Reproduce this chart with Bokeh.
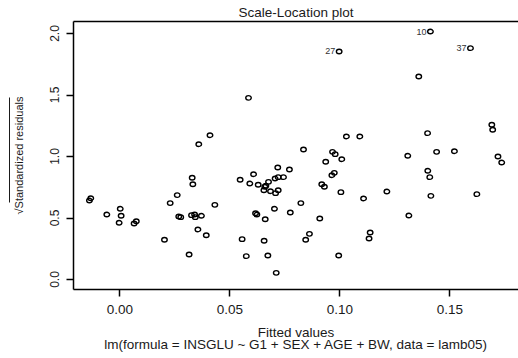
from bokeh.plotting import figure
from bokeh.models import (Range1d, LinearAxis, FixedTicker, Title,
                          NumeralTickFormatter, ColumnDataSource)
from bokeh.embed import file_html
from bokeh.resources import INLINE
from bokeh.core.properties import value

# ---- data ----
fitted = [
    -0.0132, -0.0138, 0.0002, -0.0059, 0.0006, -0.0003, 0.0075, 0.0065, 0.0203, 0.0261,
    0.0229, 0.0268, 0.0277, 0.0329, 0.0332, 0.0432, 0.0326, 0.0340, 0.0343, 0.0371,
    0.0355, 0.0393, 0.0315, 0.0547, 0.0608, 0.0591, 0.0629, 0.0659, 0.0664, 0.0655,
    0.0676, 0.0706, 0.0720, 0.0744, 0.0718, 0.0771, 0.0685, 0.0708, 0.0720, 0.0617,
    0.0623, 0.0703, 0.0661, 0.0775, 0.0556, 0.0656, 0.0575, 0.0673, 0.0711, 0.0967,
    0.0979, 0.1009, 0.0936, 0.0975, 0.0964, 0.0918, 0.0930, 0.1005, 0.1108, 0.1214,
    0.0823, 0.0909, 0.0862, 0.0845, 0.1138, 0.1133, 0.0995, 0.1309, 0.1440, 0.1521,
    0.1719, 0.1736, 0.1400, 0.1409, 0.1414, 0.1623, 0.1314, 0.0585, 0.0410, 0.0359,
    0.1412, 0.0997, 0.1594, 0.1359, 0.1030, 0.1091, 0.1399, 0.1691, 0.1695, 0.0835,
]
sqrt_std_resid = [
    0.661, 0.642, 0.575, 0.528, 0.518, 0.461, 0.474, 0.455, 0.323, 0.686,
    0.621, 0.512, 0.507, 0.827, 0.775, 0.607, 0.523, 0.528, 0.507, 0.518,
    0.407, 0.360, 0.203, 0.811, 0.856, 0.780, 0.770, 0.754, 0.762, 0.726,
    0.794, 0.821, 0.832, 0.832, 0.911, 0.894, 0.718, 0.702, 0.726, 0.539,
    0.528, 0.575, 0.490, 0.545, 0.328, 0.315, 0.190, 0.195, 0.054, 1.038,
    1.019, 0.978, 0.957, 0.867, 0.848, 0.775, 0.754, 0.710, 0.659, 0.715,
    0.621, 0.496, 0.371, 0.323, 0.382, 0.333, 0.195, 1.006, 1.038, 1.043,
    1.000, 0.951, 0.884, 0.832, 0.680, 0.694, 0.520, 1.477, 1.173, 1.100,
    2.016, 1.854, 1.881, 1.650, 1.163, 1.163, 1.190, 1.258, 1.217, 1.057,
]
flag_names = ["10", "27", "37"]
flag_index = [80, 81, 82]

x_ticks = [0.00, 0.05, 0.10, 0.15]
y_ticks = [0.0, 0.5, 1.0, 1.5, 2.0]

title_text = "Scale-Location plot"
x_label = "Fitted values"
y_label = "\u221aStandardized residuals"
sub_text = "lm(formula = INSGLU ~ G1 + SEX + AGE + BW, data = lamb05)"

FONT = "Liberation Sans"
TXT = "#1a1a1a"

X0, X1 = -0.02105, 0.18123
Y0, Y1 = -0.0813, 2.0976
def sy(py):
    return Y1 - (py - 21) * (Y1 - Y0) / 268.0

p = figure(width=518, height=358, x_range=Range1d(X0, X1), y_range=Range1d(Y0, Y1),
           output_backend="svg", toolbar_location=None, title_location=None,
           min_border_left=73, min_border_right=0, min_border_top=21, min_border_bottom=69)
p.outline_line_color = None
p.background_fill_color = "white"
p.border_fill_color = "white"
p.xgrid.visible = False
p.ygrid.visible = False

# bottom axis (x label and the model formula as a two-line axis label)
xa = p.xaxis[0]
xa.ticker = FixedTicker(ticks=x_ticks)
xa.formatter = NumeralTickFormatter(format="0.00")
xa.minor_tick_line_color = None
xa.major_tick_in = 0
xa.major_tick_out = 7
xa.major_tick_line_width = 1.5
xa.axis_line_width = 1.5
xa.major_label_text_font = FONT
xa.major_label_text_font_size = "13.5px"
xa.major_label_text_color = TXT
xa.major_label_standoff = 8
xa.axis_label = x_label + "\n" + sub_text
xa.axis_label_text_font = FONT
xa.axis_label_text_font_size = "13.5px"
xa.axis_label_text_font_style = "normal"
xa.axis_label_text_color = TXT
xa.axis_label_text_line_height = 0.86
xa.axis_label_standoff = 8

# left axis: ticks and tick labels
ya = p.yaxis[0]
ya.ticker = FixedTicker(ticks=y_ticks)
ya.formatter = NumeralTickFormatter(format="0.0")
ya.minor_tick_line_color = None
ya.major_tick_in = 0
ya.major_tick_out = 7
ya.major_tick_line_width = 1.5
ya.axis_line_width = 1.5
ya.major_label_orientation = "vertical"
ya.major_label_text_font = FONT
ya.major_label_text_font_size = "12px"
ya.major_label_text_color = TXT
ya.major_label_standoff = 7

# second left axis carrying only the y label
yl = LinearAxis(ticker=FixedTicker(ticks=[]), major_tick_out=0, major_tick_in=0,
                minor_tick_out=0, minor_tick_in=0, major_label_text_font_size="0px",
                major_label_standoff=0, axis_line_color=None,
                axis_label=y_label, axis_label_text_font=FONT,
                axis_label_text_font_size="11px", axis_label_text_font_style="normal",
                axis_label_text_color=TXT, axis_label_standoff=23)
p.add_layout(yl, "left")

# third left axis: only its line, the overline of the square-root sign
ov = LinearAxis(ticker=FixedTicker(ticks=[]), major_tick_out=0, major_tick_in=0,
                minor_tick_out=0, minor_tick_in=0, major_label_text_font_size="0px",
                major_label_standoff=0, axis_line_width=1, axis_line_color=TXT,
                bounds=(sy(202), sy(97)))
p.add_layout(ov, "left")

# top frame line
top = LinearAxis(ticker=FixedTicker(ticks=[]), major_tick_out=0, major_tick_in=0,
                 minor_tick_out=0, minor_tick_in=0, major_label_text_font_size="0px",
                 major_label_standoff=0, axis_line_width=1.5)
p.add_layout(top, "above")

title = Title(text=title_text, align="center", text_font=FONT, text_font_size="13.5px",
              text_font_style="normal", text_color=TXT, standoff=3)
p.add_layout(title, "above")

# points
src = ColumnDataSource(dict(x=fitted, y=sqrt_std_resid))
p.ellipse(x="x", y="y", width=5.5, height=4.5, width_units="screen", height_units="screen",
          source=src, fill_color=None, line_color="black", line_width=1.4)

# flagged point labels
lab = ColumnDataSource(dict(x=[fitted[i] for i in flag_index],
                            y=[sqrt_std_resid[i] for i in flag_index],
                            t=flag_names))
p.text(x="x", y="y", text="t", source=lab, text_align="right", text_baseline="middle",
       x_offset=-4, text_font=value(FONT), text_font_size=value("9px"), text_color="#333333")

open("out.html", "w").write(file_html(p, INLINE))
